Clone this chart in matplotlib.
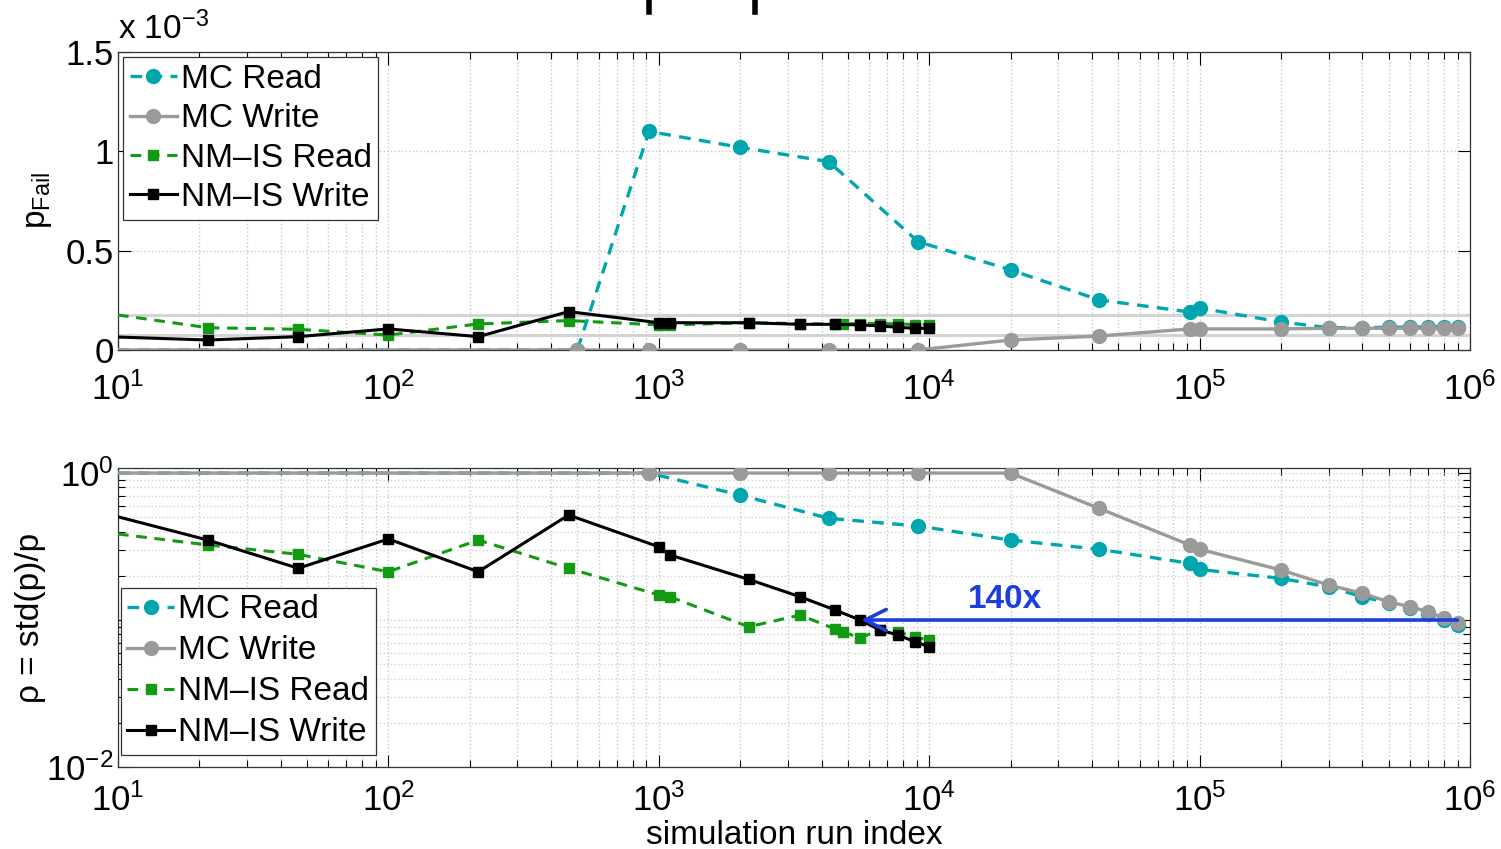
import matplotlib

matplotlib.use("Agg")

import matplotlib.pyplot as plt
from matplotlib.lines import Line2D
from matplotlib.ticker import FixedLocator, LogLocator, NullFormatter


plt.rcParams["font.family"] = ["Liberation Sans", "DejaVu Sans"]
plt.rcParams["mathtext.fontset"] = "custom"
plt.rcParams["mathtext.rm"] = "Liberation Sans"
plt.rcParams["mathtext.it"] = "Liberation Sans:italic"


# ========================================================
# DATI
# ========================================================

# Indici di simulazione Monte Carlo.
mc_runs = [
    10, 21.5, 46.4, 100, 215, 500, 920, 2000, 4250, 9100,
    20000, 42500, 92000, 100000, 200000, 300000, 400000,
    500000, 600000, 700000, 800000, 900000,
]

# p_Fail (unita di 1e-3).
mc_read_pfail = [
    0, 0, 0, 0, 0, 0, 1.10, 1.02, 0.948, 0.545,
    0.403, 0.252, 0.191, 0.211, 0.141, 0.112, 0.112,
    0.114, 0.115, 0.116, 0.117, 0.118,
]

mc_write_pfail = [
    0, 0, 0, 0, 0, 0, 0, 0, 0, 0,
    0.050, 0.070, 0.106, 0.106, 0.106, 0.109, 0.109,
    0.109, 0.109, 0.109, 0.109, 0.109,
]

# rho = std(p)/p
mc_read_rho = [
    1, 1, 1, 1, 1, 1, 1, 0.708, 0.492, 0.436,
    0.350, 0.303, 0.243, 0.221, 0.192, 0.168, 0.144,
    0.131, 0.120, 0.110, 0.100, 0.0925,
]

mc_write_rho = [
    1, 1, 1, 1, 1, 1, 1, 1, 1, 1,
    1, 0.575, 0.324, 0.303, 0.219, 0.173, 0.152,
    0.133, 0.123, 0.114, 0.103, 0.095,
]

# Indici NM-IS.
nmis_read_runs = [
    10, 21.5, 46.4, 100, 215, 464, 1000, 1100, 2150,
    3330, 4490, 4800, 5550, 6580, 7670, 8860, 10000,
]

nmis_write_runs = [
    10, 21.5, 46.4, 100, 215, 464, 1000, 1100, 2150,
    3330, 4490, 5550, 6580, 7670, 8860, 10000,
]

nmis_read_pfail = [
    0.176, 0.112, 0.104, 0.075, 0.131, 0.148, 0.126, 0.126, 0.137,
    0.133, 0.130, 0.130, 0.133, 0.133, 0.131, 0.128, 0.128,
]

nmis_write_pfail = [
    0.065, 0.050, 0.067, 0.106, 0.067, 0.193, 0.137, 0.137, 0.137,
    0.129, 0.129, 0.126, 0.121, 0.114, 0.109, 0.109,
]

nmis_read_rho = [
    0.385, 0.324, 0.280, 0.213, 0.350, 0.225, 0.148, 0.144, 0.090,
    0.108, 0.087, 0.083, 0.0755, 0.0855, 0.083, 0.0766, 0.0731,
]

nmis_write_rho = [
    0.504, 0.350, 0.225, 0.356, 0.213, 0.518, 0.315, 0.277, 0.189,
    0.144, 0.117, 0.100, 0.0855, 0.0791, 0.0711, 0.0658,
]

# Linee di riferimento grigie nel pannello superiore (unita di 1e-3).
reference_bounds = [0.176, 0.075]

# Annotazione del guadagno.
speedup_label = "140x"
speedup_from = (900000, 0.100)
speedup_to = (5600, 0.100)
speedup_text_pos = (19000, 0.137)

x_tick_exponents = [1, 2, 3, 4, 5, 6]


# ========================================================
# STILI
# ========================================================

CYAN = "#00a6ad"
GRAY = "#9a9a9a"
GREEN = "#129a12"
BLACK = "#000000"
BLUE = "#1c3ee0"

FONT_SIZE = 24

TICK_SIZE = 25

styles = {
    "MC Read": dict(color=CYAN, linestyle=(0, (3.5, 2.5)), marker="o",
                    markersize=10, linewidth=2.4),
    "MC Write": dict(color=GRAY, linestyle="-", marker="o",
                     markersize=10, linewidth=2.4),
    "NM\u2013IS Read": dict(color=GREEN, linestyle=(0, (3.5, 2.5)), marker="s",
                           markersize=7, linewidth=2.2),
    "NM\u2013IS Write": dict(color=BLACK, linestyle="-", marker="s",
                            markersize=7, linewidth=2.2),
}


def style_axis(axis, x_pad):

    axis.set_xscale("log")

    axis.set_xlim(10, 1e6)

    axis.set_xticks([10.0 ** e for e in x_tick_exponents])

    axis.set_xticklabels(
        [r"$\mathregular{10^{%d}}$" % e for e in x_tick_exponents]
    )

    axis.xaxis.set_minor_locator(
        LogLocator(base=10, subs=range(2, 10), numticks=20)
    )

    axis.xaxis.set_minor_formatter(NullFormatter())

    axis.tick_params(
        which="both",
        direction="in",
        top=True,
        right=True,
        labelsize=TICK_SIZE,
        width=0.8,
    )

    axis.tick_params(which="major", length=9)

    axis.tick_params(which="minor", length=5)

    axis.tick_params(axis="x", which="major", pad=x_pad)

    axis.tick_params(axis="y", which="major", pad=3)

    axis.grid(True, which="both", axis="x", linestyle=":",
              color="#c8c8c8", linewidth=1.0)

    for spine in axis.spines.values():
        spine.set_linewidth(0.9)
        spine.set_color("#333333")


def add_legend(axis, location, anchor, spacing):

    legend = axis.legend(
        loc=location,
        bbox_to_anchor=anchor,
        fontsize=FONT_SIZE,
        frameon=True,
        fancybox=False,
        edgecolor="#333333",
        framealpha=1.0,
        handlelength=1.4,
        handletextpad=0.12,
        labelspacing=spacing,
        borderpad=0.2,
        borderaxespad=0.0,
    )

    legend.get_frame().set_linewidth(0.9)

    return legend


# ========================================================
# CREAZIONE DEL GRAFICO
# ========================================================

figure = plt.figure(figsize=(15.01, 8.49), dpi=100)

axis_top = figure.add_axes([0.0786, 0.5878, 0.9007, 0.351])

axis_bottom = figure.add_axes([0.0786, 0.0966, 0.9007, 0.352])


# ---------------- pannello superiore ----------------

for value in reference_bounds:

    axis_top.axhline(value, color="#d4d4d4", linewidth=2.2, zorder=1)


top_series = [
    ("MC Read", mc_runs, mc_read_pfail, 5),
    ("MC Write", mc_runs, mc_write_pfail, 5),
    ("NM\u2013IS Read", nmis_read_runs, nmis_read_pfail, 1),
    ("NM\u2013IS Write", nmis_write_runs, nmis_write_pfail, 1),
]

for label, runs, values, first_marker in top_series:

    axis_top.plot(
        runs,
        values,
        label=label,
        markevery=list(range(first_marker, len(runs))),
        zorder=3,
        **styles[label],
    )

style_axis(axis_top, 16)

axis_top.set_ylim(0, 1.5)

axis_top.set_yticks([0, 0.5, 1, 1.5])

axis_top.set_yticklabels(["0", "0.5", "1", "1.5"])

axis_top.grid(True, which="major", axis="y", linestyle=":",
              color="#c8c8c8", linewidth=1.0)

axis_top.set_ylabel(r"$\mathregular{p_{Fail}}$", fontsize=FONT_SIZE,
                    labelpad=8)

axis_top.text(0.0, 1.02, r"x $\mathregular{10^{-3}}$",
              transform=axis_top.transAxes, fontsize=FONT_SIZE,
              ha="left", va="bottom")

add_legend(axis_top, "upper left", (0.004, 0.982), 0.25)


# ---------------- pannello inferiore ----------------

bottom_series = [
    ("MC Read", mc_runs, mc_read_rho, 6),
    ("MC Write", mc_runs, mc_write_rho, 6),
    ("NM\u2013IS Read", nmis_read_runs, nmis_read_rho, 1),
    ("NM\u2013IS Write", nmis_write_runs, nmis_write_rho, 1),
]

for label, runs, values, first_marker in bottom_series:

    axis_bottom.plot(
        runs,
        values,
        label=label,
        markevery=list(range(first_marker, len(runs))),
        zorder=3,
        **styles[label],
    )

style_axis(axis_bottom, 12)

axis_bottom.set_yscale("log")

axis_bottom.set_ylim(0.01, 1.08)

axis_bottom.yaxis.set_major_locator(FixedLocator([0.01, 0.1, 1]))

axis_bottom.set_yticklabels(
    [r"$\mathregular{10^{-2}}$", "", r"$\mathregular{10^{0}}$"]
)

axis_bottom.yaxis.set_minor_locator(
    LogLocator(base=10, subs=range(2, 10), numticks=10)
)

axis_bottom.yaxis.set_minor_formatter(NullFormatter())

axis_bottom.tick_params(which="both", direction="in", right=True)

axis_bottom.grid(True, which="both", axis="y", linestyle=":",
                 color="#d2d2d2", linewidth=1.0)

axis_bottom.set_ylabel("\u03c1 = std(p)/p", fontsize=FONT_SIZE, labelpad=0)

axis_bottom.set_xlabel("simulation run index", fontsize=FONT_SIZE,
                       labelpad=1)

axis_bottom.annotate(
    "",
    xy=speedup_to,
    xytext=speedup_from,
    arrowprops=dict(arrowstyle="->", color=BLUE, linewidth=2.6,
                    mutation_scale=38, shrinkA=0, shrinkB=0),
    zorder=5,
)

axis_bottom.text(
    speedup_text_pos[0],
    speedup_text_pos[1],
    speedup_label,
    color=BLUE,
    fontsize=FONT_SIZE,
    fontweight="bold",
    ha="center",
    va="center",
)

add_legend(axis_bottom, "lower left", (0.002, 0.04), 0.3)


# Due tratti neri in alto (residuo della figura originale).
for x_position in [0.4325, 0.503]:

    figure.add_artist(
        Line2D([x_position, x_position], [0.986, 1.0],
               transform=figure.transFigure, color="black", linewidth=4)
    )


# ========================================================
# SALVATAGGIO
# ========================================================

figure.savefig("out.png", dpi=100)

plt.close(figure)
